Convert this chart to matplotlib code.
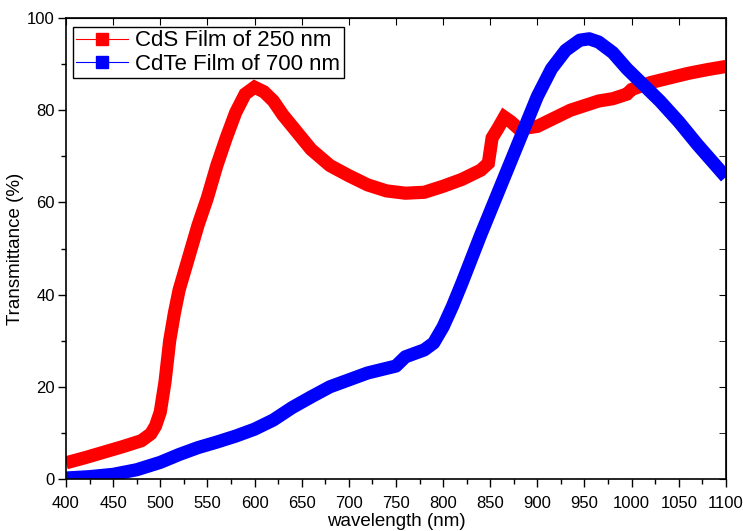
import matplotlib
matplotlib.use('Agg')
import matplotlib.pyplot as plt
from matplotlib.lines import Line2D
from matplotlib.ticker import MultipleLocator

plt.rcParams['font.family'] = ['Liberation Sans', 'DejaVu Sans']

# CdS film of 250 nm (red)
wl_cds = [400, 420, 440, 460, 480, 490, 495, 500, 505, 510, 515, 520, 530, 540, 550,
          560, 570, 580, 590, 600, 610, 620, 630, 640, 660, 680, 700, 720, 740, 760,
          780, 800, 820, 840, 848, 852, 858, 865, 872, 880, 890, 900, 910, 920, 935,
          950, 965, 980, 995, 1000, 1020, 1040, 1060, 1080, 1100]
t_cds = [3.5, 4.6, 5.8, 7.0, 8.3, 9.8, 11.5, 14.5, 21, 30, 36, 41, 48, 55, 61,
         68, 74, 79.5, 83.5, 85, 84, 82, 79, 76.5, 71.5, 68, 65.8, 63.8, 62.5, 62,
         62.2, 63.5, 65, 67, 68.5, 74, 76, 78.5, 77.5, 76, 76.2, 76.5, 77.5, 78.5, 80,
         81, 82, 82.5, 83.5, 84.5, 86, 87, 88, 88.8, 89.5]

# CdTe film of 700 nm (blue)
wl_cdte = [400, 425, 450, 475, 500, 520, 540, 560, 580, 600, 620, 640, 660, 680, 700,
           720, 740, 750, 760, 780, 790, 800, 810, 820, 840, 860, 880, 900, 915, 930,
           945, 955, 965, 980, 995, 1010, 1030, 1050, 1070, 1085, 1100]
t_cdte = [0.2, 0.5, 1.0, 2.0, 3.6, 5.3, 6.8, 8.0, 9.3, 10.8, 12.8, 15.5, 17.8, 20.0, 21.5,
          23.0, 24.0, 24.5, 26.5, 28.0, 29.5, 33.0, 37.5, 42.5, 53, 63, 73, 83, 89, 93,
          95.2, 95.5, 94.8, 92.5, 89, 86, 82, 77.5, 72.5, 69, 65.5]

fig = plt.figure(figsize=(7.43, 5.31), dpi=100)
ax = fig.add_axes([0.0888, 0.098, 0.8882, 0.868])

ax.plot(wl_cds, t_cds, color='red', lw=9.5, solid_joinstyle='miter', solid_capstyle='butt')
ax.plot(wl_cdte, t_cdte, color='blue', lw=9.5, solid_joinstyle='round', solid_capstyle='butt')

ax.set_xlim(400, 1100)
ax.set_ylim(0, 100)
ax.xaxis.set_major_locator(MultipleLocator(50))
ax.xaxis.set_minor_locator(MultipleLocator(25))
ax.yaxis.set_major_locator(MultipleLocator(20))
ax.yaxis.set_minor_locator(MultipleLocator(10))
ax.tick_params(which='both', direction='out', labelsize=12, width=1)
ax.tick_params(which='major', length=6)
ax.tick_params(which='minor', length=3.5)
ax.tick_params(axis='x', pad=6)
ax.tick_params(axis='y', pad=2)

sec_top = ax.secondary_xaxis('top')
sec_top.set_xticks(range(400, 1101, 50))
sec_top.tick_params(labeltop=False, direction='in', length=5)
sec_right = ax.secondary_yaxis('right')
sec_right.set_yticks(range(0, 101, 20))
sec_right.yaxis.set_minor_locator(MultipleLocator(10))
sec_right.tick_params(which='both', labelright=False, direction='in', length=5)

for s in ax.spines.values():
    s.set_linewidth(1.2)

ax.set_xlabel('wavelength (nm)', fontsize=13.5, labelpad=1.5)
ax.set_ylabel('Transmittance (%)', fontsize=13.5, labelpad=2)

handles = [Line2D([0], [0], color='red', lw=0.8, marker='s', ms=8),
           Line2D([0], [0], color='blue', lw=0.8, marker='s', ms=8)]
ax.legend(handles, ['CdS Film of 250 nm', 'CdTe Film of 700 nm'], loc='upper left',
          bbox_to_anchor=(0.004, 0.99), fontsize=16, frameon=True, fancybox=False,
          edgecolor='black', framealpha=1, borderpad=0.15, labelspacing=0.1,
          handlelength=2.3, handletextpad=0.35, borderaxespad=0.2)

fig.savefig('out.png', dpi=100)
